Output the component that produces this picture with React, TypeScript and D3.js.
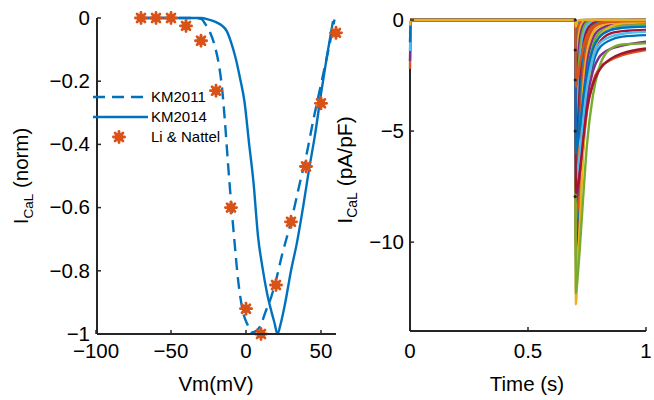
import React from 'react';
import * as d3 from 'd3';

// ---------- Left panel data ----------
const liV = [-70, -60, -50, -40, -30, -20, -10, 0, 10, 20, 30, 40, 50, 60];
const liI = [0, 0, 0, -0.025, -0.072, -0.23, -0.6, -0.92, -1.0, -0.845, -0.645, -0.47, -0.27, -0.047];

const km11V = [-70, -35, -30, -27, -24, -21, -18, -16, -14, -12, -10, -8, -5, -2, 1, 4, 7, 10, 13, 17, 20, 24, 30, 36, 40, 45, 50, 55, 59];
const km11I = [0, 0, -0.003, -0.02, -0.045, -0.085, -0.15, -0.22, -0.33, -0.46, -0.58, -0.69, -0.84, -0.93, -0.97, -0.995, -0.99, -0.97, -0.93, -0.88, -0.83, -0.75, -0.645, -0.52, -0.44, -0.32, -0.21, -0.1, -0.005];

const km14V = [-70, -30, -25, -20, -16, -13, -10, -7, -4, -1, 2, 5, 8, 11, 14, 17, 19, 21, 23, 26, 30, 34, 38, 42, 46, 50, 54, 58];
const km14I = [0, 0, -0.005, -0.013, -0.024, -0.04, -0.076, -0.125, -0.19, -0.265, -0.395, -0.52, -0.69, -0.79, -0.87, -0.93, -0.965, -1.0, -0.97, -0.905, -0.8, -0.71, -0.6, -0.48, -0.37, -0.24, -0.12, -0.01];

const leftXTicks = [-100, -50, 0, 50];
const leftYTicks = [0, -0.2, -0.4, -0.6, -0.8, -1];
const legendLabels = ['KM2011', 'KM2014', 'Li & Nattel'];

// ---------- Right panel data ----------
const rightXTicks = [0, 0.5, 1];
const rightYTicks = [0, -5, -10];
const stepStart = 0.7;
const stepTimes = [0.703, 0.71, 0.72, 0.735, 0.75, 0.775, 0.8, 0.85, 0.9, 1.0];
const traceValues = [
  [-0.5, -0.15, -0.03, 0, 0, 0, 0, 0, 0, 0],
  [-1.5, -0.6, -0.15, -0.02, 0, 0, 0, 0, 0, 0],
  [-2.5, -1.3, -0.4, -0.08, -0.02, 0, 0, 0, 0, 0],
  [-3.5, -2.1, -0.8, -0.2, -0.05, -0.01, 0, 0, 0, 0],
  [-4.5, -3.0, -1.4, -0.4, -0.12, -0.03, -0.01, 0, 0, 0],
  [-5.5, -4.0, -2.1, -0.7, -0.25, -0.07, -0.03, -0.01, 0, 0],
  [-6.5, -5.0, -2.9, -1.1, -0.45, -0.15, -0.06, -0.02, -0.01, 0],
  [-7.5, -6.0, -3.8, -1.6, -0.7, -0.25, -0.12, -0.06, -0.05, -0.05],
  [-8.5, -7.0, -4.8, -2.2, -1.05, -0.4, -0.2, -0.1, -0.08, -0.08],
  [-9.5, -8.0, -5.8, -2.9, -1.5, -0.6, -0.3, -0.18, -0.15, -0.15],
  [-10.2, -8.9, -6.8, -3.7, -2.0, -0.85, -0.45, -0.25, -0.2, -0.18],
  [-10.8, -9.6, -7.6, -4.5, -2.6, -1.15, -0.6, -0.32, -0.25, -0.22],
  [-11.3, -10.2, -8.4, -5.3, -3.2, -1.5, -0.8, -0.45, -0.35, -0.3],
  [-10.3, -9.5, -8.0, -5.4, -3.5, -1.8, -1.05, -0.6, -0.5, -0.45],
  [-9.6, -8.9, -7.5, -5.2, -3.5, -2.0, -1.3, -0.9, -0.75, -0.68],
  [-9.0, -8.5, -7.5, -5.6, -4.1, -2.8, -2.2, -1.8, -1.58, -1.35],
  [-12.8, -11.2, -9.0, -5.8, -3.5, -1.6, -0.8, -0.3, -0.15, -0.1],
  [-8.2, -7.8, -6.8, -5.0, -3.6, -2.3, -1.7, -1.3, -1.15, -0.98],
  [-12.3, -11.6, -10.2, -7.8, -5.6, -3.4, -2.2, -1.3, -1.1, -1.05],
  [-7.2, -6.8, -6.0, -4.3, -3.0, -1.7, -1.1, -0.75, -0.62, -0.53],
  [-7.8, -7.5, -6.8, -5.3, -4.0, -2.9, -2.3, -1.75, -1.5, -1.28],
  [-6.0, -5.6, -4.8, -3.4, -2.4, -1.3, -0.8, -0.45, -0.35, -0.3],
  [-3.0, -2.6, -2.0, -1.2, -0.7, -0.3, -0.15, -0.08, -0.06, -0.05],
  [-0.3, -0.05, 0, 0, 0, 0, 0, 0, 0, 0],
];
const traceStubs = [0, 0, 0, 0, 0, 0, 0, 0, 0, 0, 0, 0, 0, 0, 0, -2.2, 0, -1.85, -0.6, -1.4, 0, -1.0, 0, -0.25];
const probeMarkI = [0, -1.35, -2.7, -5.0, -7.95];
const matlabColors = ['#0072BD', '#D95319', '#EDB120', '#7E2F8E', '#77AC30', '#4DBEEE', '#A2142F'];

const FONT = '"Liberation Sans", Arial, Helvetica, sans-serif';
const AX = '#262626';
const BLUE = '#0072BD';
const ORANGE = '#D95319';

const fmt = (n: number) => String(n).replace('-', '\u2212');

function Star({ cx, cy }: { cx: number; cy: number }) {
  const r = 5.6;
  const angles = [0, 45, 90, 135];
  return (
    <g>
      <circle cx={cx} cy={cy} r={4.3} fill={ORANGE} />
      {angles.map((a) => {
        const dx = r * Math.cos((a * Math.PI) / 180);
        const dy = r * Math.sin((a * Math.PI) / 180);
        return <line key={a} x1={cx - dx} y1={cy - dy} x2={cx + dx} y2={cy + dy} stroke={ORANGE} strokeWidth={2.8} strokeLinecap="round" />;
      })}
    </g>
  );
}

export default function App() {
  // Left scales
  const xL = d3.scaleLinear().domain([-100, 60]).range([96, 336]);
  const yL = d3.scaleLinear().domain([-1, 0]).range([334, 18]);
  // Right scales
  const xR = d3.scaleLinear().domain([0, 1]).range([410, 646]);
  const yR = d3.scaleLinear().domain([-14, 0]).range([331, 20]);

  const lineL = d3.line<[number, number]>().x((d) => xL(d[0])).y((d) => yL(d[1])).curve(d3.curveMonotoneX);
  const km11 = lineL(km11V.map((v, i) => [v, km11I[i]]))!;
  const km14 = lineL(km14V.map((v, i) => [v, km14I[i]]))!;

  const lineR = d3.line<[number, number]>().x((d) => xR(d[0])).y((d) => yR(d[1])).curve(d3.curveMonotoneX);
  const traces = traceValues.map((vals, k) => {
    const pts: [number, number][] = [];
    pts.push([0, traceStubs[k]]);
    pts.push([0.004, 0]);
    pts.push([stepStart, 0]);
    stepTimes.forEach((t, i) => pts.push([t, vals[i]]));
    return { d: lineR(pts)!, color: matlabColors[k % matlabColors.length] };
  });

  const lx0 = xL(-100), lx1 = xL(60), ly0 = yL(-1), ly1 = yL(0);
  const rx0 = xR(0), rx1 = xR(1), ry0 = yR(-14), ry1 = yR(0);

  return (
    <svg width={654} height={400} style={{ position: 'absolute', left: 0, top: 0, background: '#fff' }} fontFamily={FONT}>
      <rect width={654} height={400} fill="#fff" />
      {/* ===== Left panel ===== */}
      <path d={km11} fill="none" stroke={BLUE} strokeWidth={2.4} strokeDasharray="12,7" />
      <path d={km14} fill="none" stroke={BLUE} strokeWidth={2.4} />
      {liV.map((v, i) => (
        <Star key={i} cx={xL(v)} cy={yL(liI[i])} />
      ))}
      {/* axes */}
      <line x1={lx0 + 1} y1={ly1} x2={lx0 + 1} y2={ly0} stroke={AX} strokeWidth={2} />
      <line x1={lx0 + 1} y1={ly0} x2={lx1} y2={ly0} stroke={AX} strokeWidth={2} />
      {leftYTicks.map((t) => (
        <g key={t}>
          <line x1={lx0 + 1} x2={lx0 + 5} y1={yL(t)} y2={yL(t)} stroke={AX} strokeWidth={1.5} />
          <text x={90} y={yL(t)} dy="0.33em" textAnchor="end" fontSize={20.5} fill="#000">{fmt(t)}</text>
        </g>
      ))}
      {leftXTicks.map((t) => (
        <g key={t}>
          <line x1={xL(t)} x2={xL(t)} y1={ly0} y2={ly0 - 4} stroke={AX} strokeWidth={1.5} />
          <text x={xL(t)} y={358} textAnchor="middle" fontSize={20.5} fill="#000">{fmt(t)}</text>
        </g>
      ))}
      <text x={216} y={391} textAnchor="middle" fontSize={20.5} fill="#000">Vm(mV)</text>
      <text transform={`translate(28,176) rotate(-90)`} textAnchor="middle" fontSize={20.5} fill="#000">
        I<tspan fontSize={13.5} dy={5}>CaL</tspan><tspan dy={-5}> (norm)</tspan>
      </text>
      {/* legend */}
      <line x1={93} x2={148} y1={97} y2={97} stroke={BLUE} strokeWidth={2.4} strokeDasharray="12,7" />
      <line x1={93} x2={148} y1={117} y2={117} stroke={BLUE} strokeWidth={2.4} />
      <Star cx={119} cy={137} />
      {legendLabels.map((l, i) => (
        <text key={l} x={151} y={97 + i * 20} dy="0.35em" fontSize={15} fill="#000">{l}</text>
      ))}

      {/* ===== Right panel ===== */}
      <line x1={rx0} y1={ry1 + 4} x2={rx0} y2={ry0} stroke={AX} strokeWidth={2} />
      <line x1={rx0} y1={ry0} x2={rx1} y2={ry0} stroke={AX} strokeWidth={2} />
      {traces.map((t, i) => (
        <path key={i} d={t.d} fill="none" stroke={t.color} strokeWidth={2.4} />
      ))}
      {probeMarkI.map((v, i) => (
        <circle key={i} cx={xR(stepStart)} cy={yR(v)} r={1.6} fill="#222" />
      ))}
      {rightYTicks.map((t) => (
        <g key={t}>
          <line x1={rx0} x2={rx0 + 4} y1={yR(t)} y2={yR(t)} stroke={AX} strokeWidth={1.5} />
          <text x={404} y={yR(t)} dy="0.33em" textAnchor="end" fontSize={20.5} fill="#000">{fmt(t)}</text>
        </g>
      ))}
      {rightXTicks.map((t) => (
        <g key={t}>
          <line x1={xR(t)} x2={xR(t)} y1={ry0} y2={ry0 - 4} stroke={AX} strokeWidth={1.5} />
          <text x={xR(t)} y={358} textAnchor="middle" fontSize={20.5} fill="#000">{fmt(t)}</text>
        </g>
      ))}
      <text x={527} y={391} textAnchor="middle" fontSize={20.5} fill="#000">Time (s)</text>
      <text transform={`translate(352,170) rotate(-90)`} textAnchor="middle" fontSize={21} fill="#000">
        I<tspan fontSize={14} dy={5}>CaL</tspan><tspan dy={-5}> (pA/pF)</tspan>
      </text>
    </svg>
  );
}
